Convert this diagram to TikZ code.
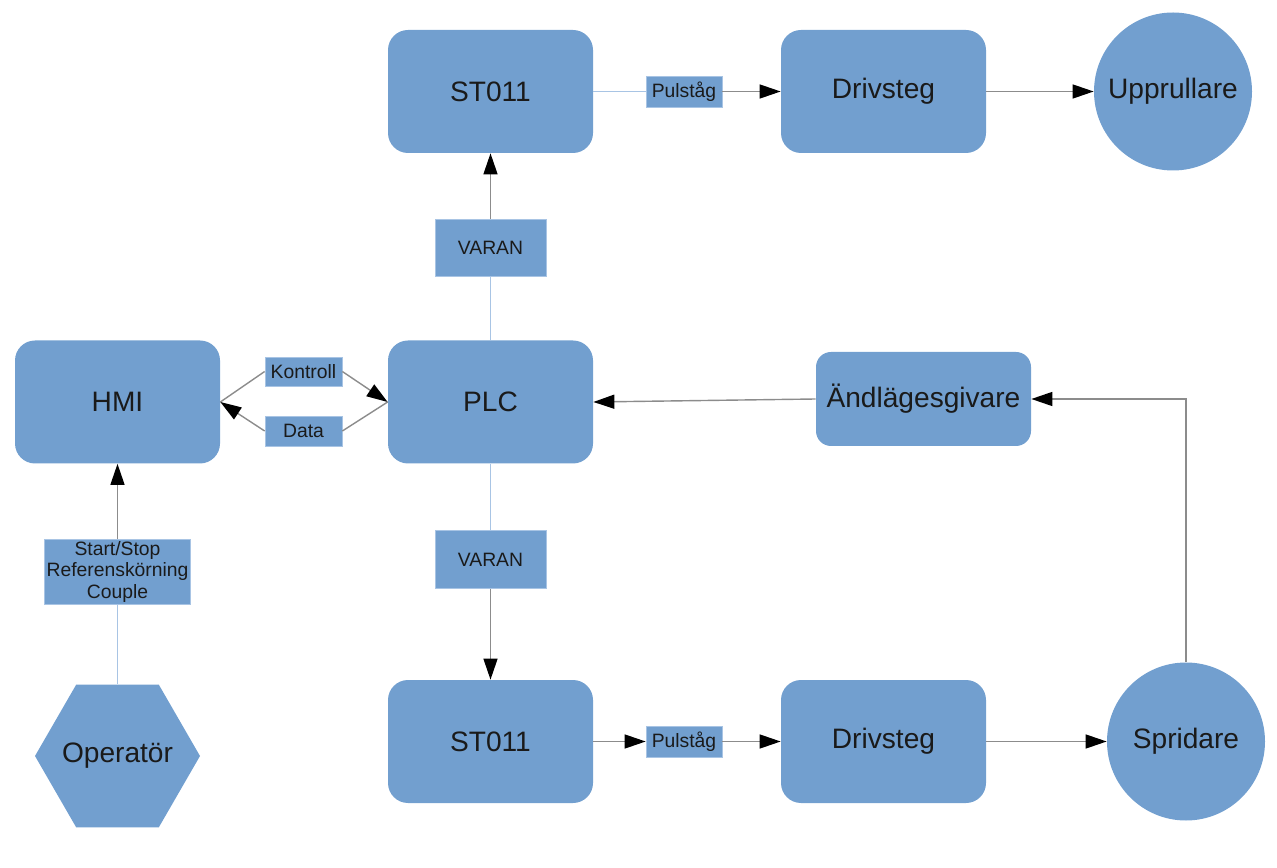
\documentclass[tikz,border=0pt]{standalone}
\usepackage{fontspec}
\setmainfont{Liberation Sans}
\usetikzlibrary{arrows.meta,positioning,shapes.geometric}
\definecolor{blockblue}{RGB}{114,159,207}
\definecolor{lineblue}{RGB}{168,196,228}
\definecolor{linegray}{RGB}{140,140,140}
\definecolor{textdark}{RGB}{26,26,26}

\begin{document}
\begin{tikzpicture}[
    block/.style={fill=blockblue, rounded corners=0.4cm, minimum width=4.1cm,
                  minimum height=2.46cm, text=textdark, font=\fontsize{16}{19}\selectfont},
    tag/.style={fill=blockblue, draw=lineblue, line width=0.4pt, inner sep=1pt,
                text=textdark, align=center, font=\fontsize{11}{12.5}\selectfont},
    round/.style={circle, fill=blockblue, minimum size=3.16cm, inner sep=0pt,
                  text=textdark, font=\fontsize{16}{19}\selectfont},
    wire/.style={linegray, line width=0.8pt},
    feed/.style={lineblue, line width=0.8pt},
    arr/.style={wire, -{Triangle[length=4.2mm, width=2.8mm, color=black]}}]
\useasboundingbox (0,0) rectangle (25.54,17.34);
% Top row
\node[block] (st1) at (9.81,15.51) {ST011};
\node[tag, minimum width=1.52cm, minimum height=0.62cm] (pt1) at (13.68,15.51) {Pulståg};
\node[block] (dr1) at (17.67,15.51) {Drivsteg};
\node[round] (up) at (23.46,15.51) {Upprullare};
\node[tag, minimum width=2.22cm, minimum height=1.15cm] (va1) at (9.81,12.38) {VARAN};
% Middle row
\node[block] (hmi) at (2.35,9.3) {HMI};
\node[tag, minimum width=1.54cm, minimum height=0.58cm] (ko) at (6.07,9.91) {Kontroll};
\node[tag, minimum width=1.54cm, minimum height=0.6cm] (da) at (6.07,8.72) {Data};
\node[block] (plc) at (9.81,9.3) {PLC};
\node[block, minimum width=4.3cm, minimum height=1.88cm, rounded corners=0.3cm] (ae) at (18.47,9.36) {Ändlägesgivare};
% Bottom row
\node[tag, minimum width=2.22cm, minimum height=1.15cm] (va2) at (9.81,6.15) {VARAN};
\node[tag, minimum width=2.92cm, minimum height=1.28cm] (ss) at (2.35,5.9) {Start/Stop\\Referenskörning\\Couple};
\node[regular polygon, regular polygon sides=6, minimum size=3.3cm, inner sep=0pt, fill=blockblue,
      label={[text=textdark, font=\fontsize{16}{19}\selectfont]center:Operatör}] (op) at (2.35,2.22) {};
\node[block] (st2) at (9.81,2.51) {ST011};
\node[tag, minimum width=1.52cm, minimum height=0.62cm] (pt2) at (13.68,2.51) {Pulståg};
\node[block] (dr2) at (17.67,2.51) {Drivsteg};
\node[round] (sp) at (23.72,2.51) {Spridare};
% Connectors
\draw[feed] (st1) -- (pt1);
\draw[arr] (pt1) -- (dr1);
\draw[arr] (dr1) -- (up);
\draw[feed] (plc) -- (va1);
\draw[arr] (va1) -- (st1);
\draw[wire] (hmi.east) -- (ko.west);
\draw[arr] (ko.east) -- (plc.west);
\draw[wire] (plc.west) -- (da.east);
\draw[arr] (da.west) -- (hmi.east);
\draw[feed] (op) -- (ss);
\draw[arr] (ss) -- (hmi);
\draw[feed] (plc) -- (va2);
\draw[arr] (va2) -- (st2);
\draw[arr] (st2) -- (pt2);
\draw[arr] (pt2) -- (dr2);
\draw[arr] (dr2) -- (sp);
% Feedback
\draw[arr] (sp.north) |- (ae.east);
\draw[arr] (ae.west) -- (plc.east);
\end{tikzpicture}
\end{document}
